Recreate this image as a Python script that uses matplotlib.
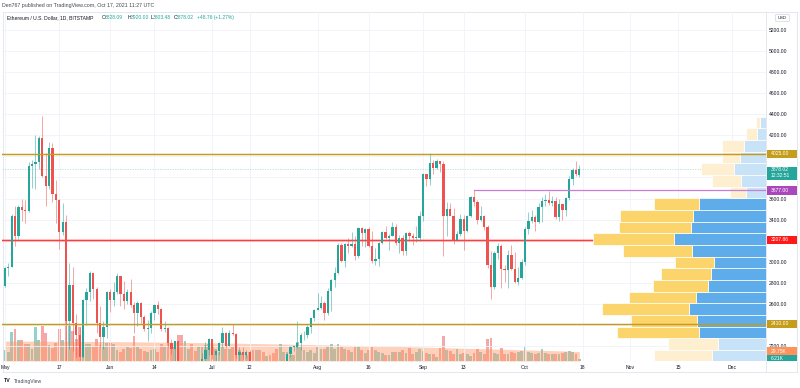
import matplotlib

matplotlib.use("Agg")
import matplotlib.pyplot as plt
from matplotlib.patches import Rectangle, FancyBboxPatch
import numpy as np
import pandas as pd

plt.rcParams["font.family"] = ["Liberation Sans", "DejaVu Sans"]

START = "2021-05-01"

# daily OHLC, ETH/USD Bitstamp, 1 May .. 17 Oct 2021
opens = [
    2772, 2945, 2950, 3430, 3240, 3522, 3490, 3480, 3905, 3930, 3950, 4170, 3810, 3715, 4080, 3640,
    3590, 3280, 3380, 2440, 2780, 2420, 2300, 2100, 2640, 2710, 2890, 2745, 2420, 2290, 2385,
    2710, 2635, 2710, 2860, 2690, 2630, 2710, 2590, 2515, 2610, 2475, 2360, 2370, 2510, 2590,
    2550, 2360, 2370, 2230, 2170, 2245, 1890, 1875, 1970, 1990, 1830, 1820, 1980, 2080, 2160,
    2270, 2110, 2150, 2225, 2320, 2200, 2325, 2315, 2115, 2145, 2110, 2140, 2030, 1940, 1995,
    1910, 1880, 1900, 1890, 1820, 1790, 1995, 2030, 2125, 2190, 2190, 2230, 2300, 2300, 2385, 2465,
    2540, 2560, 2610, 2510, 2725, 2830, 2890, 3160, 3010, 3165, 3145, 3165, 3050, 3320, 3270,
    3310, 3150, 3010, 3030, 3180, 3285, 3230, 3245, 3325, 3175, 3230, 3100, 3270, 3240, 3225, 3230,
    3430, 3830, 3790, 3940, 3890, 3955, 3930, 3430, 3500, 3430, 3210, 3265, 3410, 3290, 3430,
    3610, 3570, 3400, 3430, 3330, 2970, 2760, 3080, 3150, 2930, 2925, 3060, 2930, 2810, 2850,
    3000, 3310, 3390, 3420, 3380, 3520, 3580, 3590, 3560, 3580, 3420, 3545, 3490, 3605, 3790,
    3870, 3828,
]
highs = [
    2950, 2985, 3450, 3530, 3540, 3600, 3590, 3950, 3970, 4200, 4190, 4380, 4030, 4140, 4130, 3780,
    3600, 3560, 3440, 2990, 2950, 2500, 2380, 2650, 2750, 2910, 2895, 2760, 2580, 2440, 2720,
    2740, 2810, 2890, 2860, 2820, 2740, 2840, 2620, 2630, 2620, 2490, 2450, 2530, 2600, 2630,
    2560, 2440, 2380, 2270, 2250, 2250, 2000, 2040, 2030, 2010, 1860, 1990, 2130, 2240, 2275,
    2270, 2160, 2240, 2380, 2330, 2350, 2410, 2320, 2190, 2190, 2160, 2160, 2040, 2000, 2030,
    1960, 1930, 1990, 1900, 1830, 2020, 2040, 2130, 2200, 2200, 2440, 2320, 2340, 2400, 2470, 2550,
    2700, 2670, 2630, 2750, 2840, 2950, 3180, 3180, 3180, 3230, 3280, 3240, 3330, 3330, 3320,
    3330, 3290, 3130, 3190, 3290, 3340, 3260, 3380, 3360, 3250, 3250, 3280, 3290, 3270, 3340, 3480,
    3840, 3830, 4030, 3970, 3980, 3960, 3960, 3570, 3560, 3510, 3290, 3450, 3440, 3440, 3620,
    3677, 3590, 3530, 3440, 3350, 3100, 3100, 3180, 3170, 2970, 3110, 3160, 3090, 2950, 3030,
    3330, 3470, 3490, 3440, 3560, 3610, 3640, 3670, 3620, 3610, 3600, 3550, 3610, 3815, 3890,
    3955, 3920,
]
lows = [
    2760, 2860, 2950, 3150, 3220, 3390, 3370, 3470, 3700, 3690, 3880, 3800, 3530, 3690, 3570, 3370,
    3120, 3250, 1900, 2170, 2150, 2100, 1730, 2090, 2400, 2630, 2650, 2320, 2190, 2170, 2280,
    2520, 2580, 2690, 2580, 2550, 2600, 2570, 2320, 2390, 2420, 2340, 2250, 2320, 2450, 2500,
    2340, 2330, 2190, 2120, 1970, 1880, 1700, 1850, 1900, 1800, 1720, 1800, 1970, 2050, 2110,
    2080, 2010, 2110, 2190, 2180, 2200, 2300, 2090, 2050, 2080, 2090, 2010, 1940, 1870, 1880,
    1850, 1860, 1880, 1810, 1720, 1790, 1950, 2000, 2100, 2150, 2180, 2160, 2260, 2280, 2320, 2440,
    2540, 2550, 2450, 2490, 2530, 2760, 2880, 3000, 2950, 3080, 3140, 3020, 3040, 3150, 3140,
    3140, 2990, 2970, 2960, 3170, 3220, 3110, 3240, 3160, 3080, 3060, 3060, 3200, 3160, 3190, 3200,
    3390, 3720, 3730, 3830, 3880, 3850, 3050, 3240, 3450, 3170, 3200, 3240, 3110, 3280, 3420,
    3530, 3360, 3390, 3300, 2940, 2650, 2740, 3030, 2750, 2810, 2750, 2920, 2800, 2780, 2840,
    2970, 3260, 3370, 3290, 3370, 3380, 3530, 3540, 3530, 3410, 3390, 3400, 3430, 3590, 3730,
    3810, 3803,
]
closes = [
    2945, 2950, 3430, 3240, 3522, 3490, 3480, 3905, 3930, 3950, 4170, 3810, 3715, 4080, 3640, 3590,
    3280, 3380, 2440, 2780, 2420, 2300, 2100, 2640, 2710, 2890, 2745, 2420, 2290, 2385, 2710,
    2635, 2710, 2860, 2690, 2630, 2710, 2590, 2515, 2610, 2475, 2360, 2370, 2510, 2590, 2550,
    2360, 2370, 2230, 2170, 2245, 1890, 1875, 1970, 1990, 1830, 1820, 1980, 2080, 2160, 2270,
    2110, 2150, 2225, 2320, 2200, 2325, 2315, 2115, 2145, 2110, 2140, 2030, 1940, 1995, 1910,
    1880, 1900, 1890, 1820, 1790, 1995, 2030, 2125, 2190, 2190, 2230, 2300, 2300, 2385, 2465, 2540,
    2560, 2610, 2510, 2725, 2830, 2890, 3160, 3010, 3165, 3145, 3165, 3050, 3320, 3270, 3310,
    3150, 3010, 3030, 3180, 3285, 3230, 3245, 3325, 3175, 3230, 3100, 3270, 3240, 3225, 3230, 3430,
    3830, 3790, 3940, 3890, 3955, 3930, 3430, 3500, 3430, 3210, 3265, 3410, 3290, 3430, 3610,
    3570, 3400, 3430, 3330, 2970, 2760, 3080, 3150, 2930, 2925, 3060, 2930, 2810, 2850, 3000,
    3310, 3390, 3420, 3380, 3520, 3580, 3590, 3560, 3580, 3420, 3545, 3490, 3605, 3790, 3870,
    3829, 3878,
]
# daily volume, thousands of ETH
volumes = [
    34, 30, 93, 101, 66, 66, 55, 53, 37, 109, 66, 113, 91, 51, 43, 59, 101, 66,
    150, 115, 95, 70, 110, 80, 55, 55, 45, 70, 50, 45,
    59, 59, 53, 34, 30, 37, 45, 43, 80, 45, 37, 32, 30, 34, 37, 30, 55, 48, 64, 48, 48, 83, 83, 64,
    40, 55, 32, 48,
    45, 50, 55, 50, 40, 30, 45, 40, 40, 45, 60, 35, 25, 20, 30, 35, 35, 35, 30, 15,
    18, 25, 40, 55, 30, 30, 20, 18, 60, 45, 35, 30, 35, 25, 45, 40, 40, 48, 55, 40,
    55, 45, 40, 35, 30, 45, 48, 35, 25, 35, 45, 35, 30, 25, 18, 20, 30, 30, 30,
    34, 27, 43, 21, 30, 37, 32, 27, 23, 21, 13, 41, 80, 34, 32, 23, 37, 21, 27, 21,
    16, 27, 37, 30, 21, 69, 75, 27, 21, 43, 21, 23, 30, 27, 30, 32, 48, 30, 27, 21,
    27, 37, 27, 21, 21, 23, 21, 27, 30, 32, 30, 21, 6.21,
]
# volume moving average
volume_ma = [
    64.0, 63.9, 63.9, 63.8, 63.8, 63.7, 63.7, 63.6, 63.6, 63.5,
    63.5, 63.4, 63.4, 63.3, 63.3, 63.2, 63.2, 63.1, 63.1, 63.0,
    62.9, 62.8, 62.8, 62.7, 62.6, 62.6, 62.5, 62.4, 62.4, 62.3,
    62.2, 62.1, 62.0, 61.9, 61.8, 61.7, 61.6, 61.5, 61.4, 61.3,
    61.1, 61.0, 60.9, 60.8, 60.6, 60.5, 60.4, 60.2, 60.1, 60.0,
    59.8, 59.7, 59.5, 59.4, 59.2, 59.1, 58.9, 58.8, 58.6, 58.5,
    58.3, 58.1, 58.0, 57.8, 57.6, 57.5, 57.3, 57.1, 56.9, 56.8,
    56.6, 56.4, 56.2, 56.0, 55.8, 55.6, 55.5, 55.3, 55.1, 54.9,
    54.7, 54.5, 54.3, 54.1, 53.9, 53.7, 53.5, 53.3, 53.1, 52.9,
    52.7, 52.5, 52.2, 52.0, 51.8, 51.6, 51.3, 51.1, 50.9, 50.7,
    50.4, 50.2, 50.0, 49.7, 49.5, 49.3, 49.0, 48.8, 48.5, 48.3,
    48.0, 47.8, 47.5, 47.3, 47.0, 46.8, 46.5, 46.2, 46.0, 45.7,
    45.4, 45.1, 44.9, 44.6, 44.3, 44.0, 43.7, 43.4, 43.1, 42.8,
    42.5, 42.2, 41.9, 41.6, 41.3, 41.0, 40.7, 40.4, 40.1, 39.8,
    39.5, 39.2, 38.9, 38.6, 38.3, 38.0, 37.7, 37.4, 37.1, 36.8,
    36.5, 36.2, 35.9, 35.6, 35.3, 35.0, 34.7, 34.4, 34.1, 33.8,
    33.5, 33.2, 32.9, 32.6, 32.3, 32.0, 31.6, 31.0, 30.4, 29.75,
]

# visible-range volume profile, rows from the bottom up
profile_low = 2051.0
profile_step = 110.8
profile_up = [53.7, 47.7, 66.7, 69.3, 77.3, 70, 58.3, 55, 51.7, 74.3, 92, 75, 72.7, 66.7,
              20, 25, 31.7, 26, 21.7, 8.7, 6]
profile_down = [58.3, 50.6, 82, 66, 86.7, 66.7, 55, 50.3, 39.3, 69, 81.3, 71.7, 73.3, 45.3,
                16, 28.7, 33.6, 18.3, 22.6, 11.6, 4]
value_area_rows = range(2, 14)

price_ticks = list(range(2200, 5201, 200))
hidden_price_ticks = [4000, 3800, 3200, 2400]  # covered by the price tags
date_ticks = ["2021-05-01", "2021-05-17", "2021-06-01", "2021-06-14", "2021-07-01",
              "2021-07-12", "2021-08-01", "2021-08-16", "2021-09-01", "2021-09-13",
              "2021-10-01", "2021-10-18", "2021-11-01", "2021-11-15", "2021-12-01"]
date_labels = ["May", "17", "Jun", "14", "Jul", "12", "Aug", "16", "Sep", "13",
               "Oct", "18", "Nov", "15", "Dec"]

support_gold = [4025.00, 2410.00]
support_red = 3207.86
resistance_purple = 3677.00
resistance_from = "2021-09-16"
last_price = 3878.02

UP = "#26a69a"
DOWN = "#ef5350"
GOLD = "#c29b1f"
GRID = "#f0f3fa"
FRAME = "#e0e3eb"
TEXT = "#131722"

W, H = 800, 388
fig = plt.figure(figsize=(W / 100, H / 100), dpi=100)
fig.patch.set_facecolor("white")


def fx(x):
    return x / W


def fy(y):
    return 1 - y / H


# plot area in pixels: x 2..766, y 12..361
pos = [fx(2), fy(361), fx(766) - fx(2), fy(12) - fy(361)]
ax_vol = fig.add_axes(pos, zorder=1)
ax = fig.add_axes(pos, zorder=2)
ax_prof = fig.add_axes(pos, zorder=3, sharey=ax)
ax.patch.set_visible(False)
ax_prof.patch.set_visible(False)

dates = pd.date_range(START, periods=len(closes), freq="D")
x = np.arange(len(closes))
o = np.array(opens, float)
c = np.array(closes, float)
hi = np.array(highs, float)
lo = np.array(lows, float)
rising = c >= o

xlim = (-0.85, 223.9)
ylim = (2057.5, 5371.0)

# volume pane
ax_vol.set_xlim(xlim)
ax_vol.set_ylim(0, 1117)
ax_vol.set_axis_off()
vol_colors = np.where(rising, UP, DOWN)
ax_vol.bar(x, volumes, width=0.82, color=vol_colors, alpha=0.5, linewidth=0)
ax_vol.fill_between(x, 0, volume_ma, color="#ff9966", alpha=0.45, linewidth=0)

# price pane
ax.set_xlim(xlim)
ax.set_ylim(ylim)
for s in ax.spines.values():
    s.set_visible(False)
tick_pos = [(pd.Timestamp(d) - dates[0]).days for d in date_ticks]
ax.set_xticks(tick_pos)
ax.set_xticklabels(date_labels)
ax.set_yticks(price_ticks)
ax.set_yticklabels(["" if p in hidden_price_ticks else f"{p:.2f}" for p in price_ticks])
ax.yaxis.tick_right()
ax.tick_params(axis="y", length=0, pad=2.3, labelsize=3.6, labelcolor=TEXT)
ax.tick_params(axis="x", length=0, pad=2.6, labelsize=3.6, labelcolor=TEXT)
ax.grid(True, color=GRID, linewidth=0.6, zorder=0)
ax.set_axisbelow(True)

ax.axhline(support_red, color="#ff5252", linewidth=2.2, alpha=0.25, zorder=2)
ax.axhline(support_red, color="#ff3d3d", linewidth=0.9, zorder=2)
ax.axhline(last_price, color=UP, linewidth=0.6, alpha=0.35,
           linestyle=(0, (1.5, 1.5)), zorder=2)

body = c - o
body = np.where(np.abs(body) < 8, np.where(rising, 8, -8), body)
colors = np.where(rising, UP, DOWN)
ax.vlines(x, lo, hi, colors=colors, linewidth=0.6, alpha=0.6, zorder=3)
ax.bar(x, body, bottom=o, width=0.66, color=colors, linewidth=0, zorder=4)

# volume profile, drawn from the price scale edge leftwards
ax_prof.set_xlim(764, 0)
ax_prof.set_axis_off()
rows = profile_low + profile_step * (np.arange(len(profile_up)) + 0.5)
up_c = ["#5eadea" if i in value_area_rows else "#c8e3f8" for i in range(len(rows))]
dn_c = ["#fcd46c" if i in value_area_rows else "#fdefcf" for i in range(len(rows))]
ax_prof.barh(rows, profile_up, height=profile_step, left=0, color=up_c,
             edgecolor="white", linewidth=0.5)
ax_prof.barh(rows, profile_down, height=profile_step, left=profile_up, color=dn_c,
             edgecolor="white", linewidth=0.5)

for lvl in support_gold:
    ax_prof.axhline(lvl, color=GOLD, linewidth=2.0, alpha=0.2)
    ax_prof.axhline(lvl, color=GOLD, linewidth=0.8)
x_res = (pd.Timestamp(resistance_from) - dates[0]).days
ax_prof.plot([x_res, xlim[1]], [resistance_purple] * 2, color="#c77dd6", linewidth=0.9,
             transform=ax.transData, clip_on=True)


# right-hand price tags
def tag(y_disp, text, color, height=8.5, x0=767, x1=797):
    top = H - y_disp
    fig.patches.append(Rectangle((fx(x0), fy(top + height / 2)), fx(x1 - x0), height / H,
                                 transform=fig.transFigure, facecolor=color,
                                 edgecolor="none", zorder=5))
    fig.text(fx(770.5), fy(top), text, fontsize=3.6, color="white", ha="left",
             va="center", zorder=6)


def tag_price(price, text, color, sub=None):
    y_disp = ax.transData.transform((0, price))[1]
    if sub is None:
        tag(y_disp, text, color)
    else:
        top = H - y_disp
        fig.patches.append(Rectangle((fx(767), fy(top + 10.3)), fx(30), 12.8 / H,
                                     transform=fig.transFigure, facecolor=color,
                                     edgecolor="none", zorder=5))
        fig.text(fx(770.5), fy(top), text, fontsize=3.6, color="white", ha="left",
                 va="center", zorder=6)
        fig.text(fx(770.5), fy(top + 6.2), sub, fontsize=3.6, color="white", ha="left",
                 va="center", zorder=6)


tag_price(support_gold[0], "4025.00", "#c59d1c")
tag_price(last_price, "3878.02", UP, sub="12:32:51")
tag_price(resistance_purple, "3677.00", "#ab47bc")
tag_price(support_red, "3207.86", "#ff1a1a")
tag_price(support_gold[1], "2410.00", "#c59d1c")
tag(ax_vol.transData.transform((0, volume_ma[-1]))[1], "29.75K", "#ff915a")
fig.patches.append(Rectangle((fx(767), fy(361)), fx(30), 5.6 / H, transform=fig.transFigure,
                             facecolor=UP, edgecolor="none", zorder=5))
fig.text(fx(770.5), fy(358.4), "6.21K", fontsize=3.6, color="white", ha="left",
         va="center", zorder=6)

# USD badge
fig.patches.append(FancyBboxPatch((fx(775.5), fy(21.5)), fx(14), 7 / H,
                                  boxstyle="round,pad=0,rounding_size=0.002",
                                  transform=fig.transFigure, facecolor="white",
                                  edgecolor="#d1d4dc", linewidth=0.5, zorder=5))
fig.text(fx(782.5), fy(18), "USD", fontsize=3.0, color=TEXT, ha="center", va="center",
         zorder=6)

# chart frame
for (xa, ya, xb, yb) in [(3, 11.5, 797, 11.5), (3, 11.5, 3, 372), (3, 372, 797, 372),
                         (797, 11.5, 797, 372), (766, 11.5, 766, 372)]:
    fig.add_artist(plt.Line2D([fx(xa), fx(xb)], [fy(ya), fy(yb)], color=FRAME,
                              linewidth=0.6, transform=fig.transFigure))

# header texts
fig.text(fx(2), fy(5.7), "Den767 published on TradingView.com, Oct 17, 2021 11:27 UTC",
         fontsize=3.75, color="#434651", ha="left", va="center")
header = [(7.3, "Ethereum / U.S. Dollar, 1D, BITSTAMP", TEXT),
          (101.7, "O", TEXT), (104.3, "3828.09", UP),
          (127.7, "H", TEXT), (130.6, "3920.00", UP),
          (150.7, "L", TEXT), (152.8, "3803.48", UP),
          (173.3, "C", TEXT), (176.0, "3878.02", UP),
          (196.7, "+48.76 (+1.27%)", UP)]
for hx, ht, hc in header:
    fig.text(fx(hx), fy(17.4), ht, fontsize=3.65, color=hc, ha="left", va="center", zorder=6)

fig.text(fx(4), fy(381), "TV", fontsize=3.8, color=TEXT, ha="left", va="center",
         fontweight="bold")
fig.text(fx(13.5), fy(381), "TradingView", fontsize=3.6, color="#434651", ha="left",
         va="center")

fig.savefig("out.png", dpi=100, facecolor="white")
